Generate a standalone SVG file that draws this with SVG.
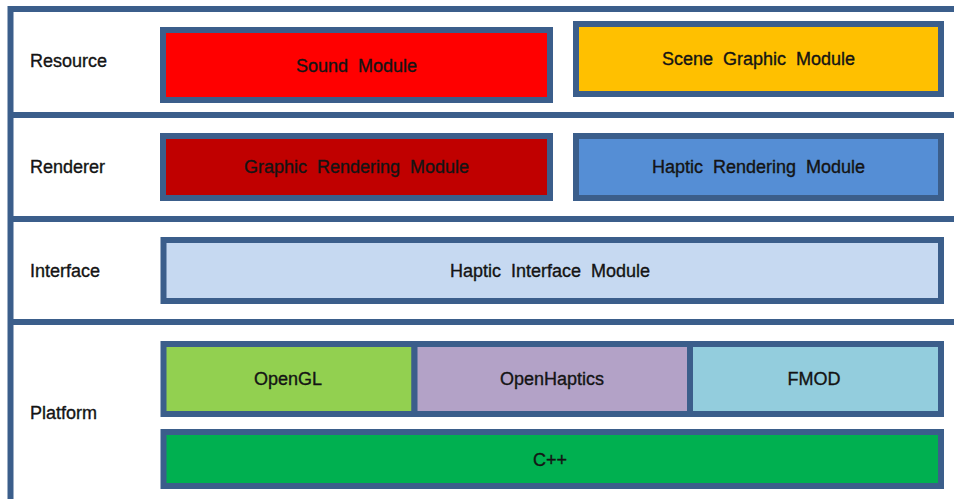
<svg xmlns="http://www.w3.org/2000/svg" width="954" height="499" viewBox="0 0 954 499">
<style>
.frame{stroke:#3b5e8b;stroke-width:6;fill:none}
.box{stroke:#3b5e8b;stroke-width:6}
.lbl{font-family:"Liberation Sans",Arial,sans-serif;font-size:18px;fill:#141414;stroke:#141414;stroke-width:0.35}
.t{font-family:"Liberation Sans",Arial,sans-serif;font-size:18px;fill:#141414;stroke:#141414;stroke-width:0.35;text-anchor:middle;word-spacing:5px}
</style>
<rect width="954" height="499" fill="#ffffff"/>
<g id="frame">
<line class="frame" x1="10.5" y1="6" x2="10.5" y2="499"/>
<line class="frame" x1="8" y1="9" x2="954" y2="9"/>
<line class="frame" x1="8" y1="115" x2="954" y2="115"/>
<line class="frame" x1="8" y1="219" x2="954" y2="219"/>
<line class="frame" x1="8" y1="322" x2="954" y2="322"/>
</g>
<g id="labels">
<text class="lbl" x="30" y="67">Resource</text>
<text class="lbl" x="30" y="173">Renderer</text>
<text class="lbl" x="30" y="277">Interface</text>
<text class="lbl" x="30" y="419">Platform</text>
</g>
<g id="sound">
<rect class="box" x="163" y="30" width="387" height="70" fill="#ff0000"/>
<text class="t" x="356.5" y="71.5">Sound Module</text>
</g>
<g id="scene">
<rect class="box" x="576" y="24" width="365" height="70" fill="#ffc000"/>
<text class="t" x="758.5" y="64.5">Scene Graphic Module</text>
</g>
<g id="graphic-rendering">
<rect class="box" x="163" y="136" width="387" height="62" fill="#c00000"/>
<text class="t" x="356.5" y="172.5">Graphic Rendering Module</text>
</g>
<g id="haptic-rendering">
<rect class="box" x="576" y="136" width="365" height="62" fill="#558ed5"/>
<text class="t" x="758.5" y="172.5">Haptic Rendering Module</text>
</g>
<g id="haptic-interface">
<rect class="box" x="163.5" y="240" width="777.5" height="61" fill="#c6d9f1"/>
<text class="t" x="550" y="276.5">Haptic Interface Module</text>
</g>
<g id="opengl">
<rect class="box" x="163.5" y="344" width="251" height="70" fill="#92d050"/>
<text class="t" x="288" y="384.5">OpenGL</text>
</g>
<g id="openhaptics">
<rect class="box" x="414.5" y="344" width="275.5" height="70" fill="#b3a2c7"/>
<text class="t" x="552" y="384.5">OpenHaptics</text>
</g>
<g id="fmod">
<rect class="box" x="690" y="344" width="251" height="70" fill="#93cddd"/>
<text class="t" x="814" y="384.5">FMOD</text>
</g>
<g id="cpp">
<rect class="box" x="163.5" y="432" width="777.5" height="54" fill="#00b050"/>
<text class="t" x="550" y="465.5">C++</text>
</g>
<g id="connectors"></g>
</svg>
